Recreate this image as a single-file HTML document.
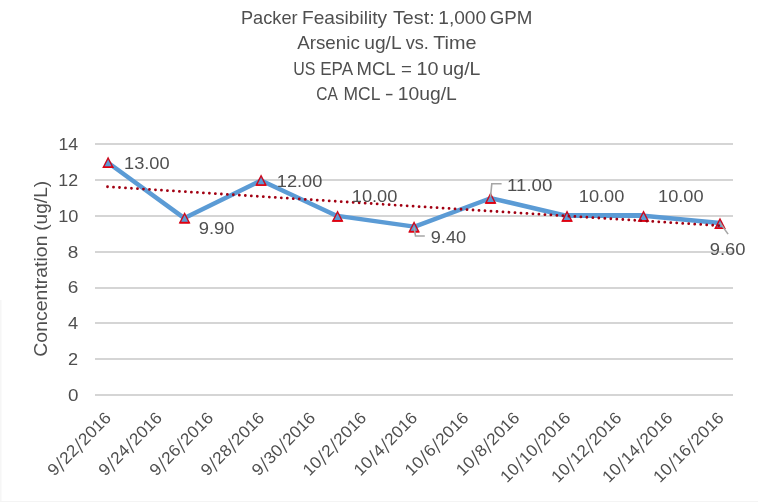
<!DOCTYPE html>
<html><head><meta charset="utf-8"><title>Packer Feasibility Test</title>
<style>
html,body{margin:0;padding:0;background:#fff;}
body{width:758px;height:502px;overflow:hidden;font-family:"Liberation Sans",sans-serif;}
svg{display:block;will-change:transform;font-family:"Liberation Sans",sans-serif;}
</style></head><body>
<svg width="758" height="502" viewBox="0 0 758 502">
<rect x="0" y="0" width="758" height="502" fill="#ffffff"/>
<rect x="0" y="300" width="1.5" height="202" fill="#f6f6f6"/>
<rect x="0" y="501" width="758" height="1" fill="#f4f4f4"/>
<rect x="95" y="143" width="638" height="2" fill="#d5d5d5"/>
<rect x="95" y="179" width="638" height="2" fill="#d5d5d5"/>
<rect x="95" y="215" width="638" height="2" fill="#d5d5d5"/>
<rect x="95" y="251" width="638" height="2" fill="#d5d5d5"/>
<rect x="95" y="287" width="638" height="2" fill="#d5d5d5"/>
<rect x="95" y="322" width="638" height="2" fill="#d5d5d5"/>
<rect x="95" y="358" width="638" height="2" fill="#d5d5d5"/>
<rect x="95" y="394" width="638" height="2" fill="#d5d5d5"/>
<text x="241.0" y="23.8" font-size="17.8" fill="#4f4f4f" textLength="56.55" lengthAdjust="spacingAndGlyphs">Packer</text>
<text x="302.0" y="23.8" font-size="17.8" fill="#4f4f4f" textLength="85.04" lengthAdjust="spacingAndGlyphs">Feasibility</text>
<text x="393.0" y="23.8" font-size="17.8" fill="#4f4f4f" textLength="41.62" lengthAdjust="spacingAndGlyphs">Test:</text>
<text x="438.25" y="23.8" font-size="17.8" fill="#4f4f4f" textLength="47.87" lengthAdjust="spacingAndGlyphs">1,000</text>
<text x="489.75" y="23.8" font-size="17.8" fill="#4f4f4f" textLength="42.65" lengthAdjust="spacingAndGlyphs">GPM</text>
<text x="297.25" y="48.9" font-size="17.8" fill="#4f4f4f" textLength="62.51" lengthAdjust="spacingAndGlyphs">Arsenic</text>
<text x="364.25" y="48.9" font-size="17.8" fill="#4f4f4f" textLength="37.36" lengthAdjust="spacingAndGlyphs">ug/L</text>
<text x="405.75" y="48.9" font-size="17.8" fill="#4f4f4f" textLength="23.14" lengthAdjust="spacingAndGlyphs">vs.</text>
<text x="433.25" y="48.9" font-size="17.8" fill="#4f4f4f" textLength="43.3" lengthAdjust="spacingAndGlyphs">Time</text>
<text x="293.25" y="74.6" font-size="17.8" fill="#4f4f4f" textLength="22.17" lengthAdjust="spacingAndGlyphs">US</text>
<text x="320.25" y="74.6" font-size="17.8" fill="#4f4f4f" textLength="32.81" lengthAdjust="spacingAndGlyphs">EPA</text>
<text x="356.5" y="74.6" font-size="17.8" fill="#4f4f4f" textLength="39.12" lengthAdjust="spacingAndGlyphs">MCL</text>
<text x="401.0" y="74.6" font-size="17.8" fill="#4f4f4f" textLength="10.88" lengthAdjust="spacingAndGlyphs">=</text>
<text x="416.5" y="74.6" font-size="17.8" fill="#4f4f4f" textLength="21.98" lengthAdjust="spacingAndGlyphs">10</text>
<text x="442.5" y="74.6" font-size="17.8" fill="#4f4f4f" textLength="37.86" lengthAdjust="spacingAndGlyphs">ug/L</text>
<text x="316.25" y="99.9" font-size="17.8" fill="#4f4f4f" textLength="21.55" lengthAdjust="spacingAndGlyphs">CA</text>
<text x="343.5" y="99.9" font-size="17.8" fill="#4f4f4f" textLength="36.86" lengthAdjust="spacingAndGlyphs">MCL</text>
<text x="384.75" y="99.9" font-size="17.8" fill="#4f4f4f" textLength="8.9" lengthAdjust="spacingAndGlyphs">-</text>
<text x="397.75" y="99.9" font-size="17.8" fill="#4f4f4f" textLength="59.08" lengthAdjust="spacingAndGlyphs">10ug/L</text>
<text x="58.5" y="149.85" font-size="16.7" fill="#4f4f4f" textLength="19.69" lengthAdjust="spacingAndGlyphs">14</text>
<text x="58.25" y="185.85" font-size="16.7" fill="#4f4f4f" textLength="19.76" lengthAdjust="spacingAndGlyphs">12</text>
<text x="58.25" y="221.85" font-size="16.7" fill="#4f4f4f" textLength="20.22" lengthAdjust="spacingAndGlyphs">10</text>
<text x="67.75" y="257.5" font-size="16.7" fill="#4f4f4f" textLength="10.56" lengthAdjust="spacingAndGlyphs">8</text>
<text x="67.75" y="292.85" font-size="16.7" fill="#4f4f4f" textLength="10.56" lengthAdjust="spacingAndGlyphs">6</text>
<text x="68.0" y="328.85" font-size="16.7" fill="#4f4f4f" textLength="10.13" lengthAdjust="spacingAndGlyphs">4</text>
<text x="68.0" y="364.85" font-size="16.7" fill="#4f4f4f" textLength="10.09" lengthAdjust="spacingAndGlyphs">2</text>
<text x="68.0" y="400.85" font-size="16.7" fill="#4f4f4f" textLength="10.45" lengthAdjust="spacingAndGlyphs">0</text>
<text transform="translate(47,356.75) rotate(-90)" font-size="17.8" fill="#4f4f4f" textLength="121.29" lengthAdjust="spacingAndGlyphs">Concentration</text>
<text transform="translate(47,230.75) rotate(-90)" font-size="17.8" fill="#4f4f4f" textLength="49.86" lengthAdjust="spacingAndGlyphs">(ug/L)</text>
<g transform="translate(112.10,419.00) rotate(-45)"><text x="-81.80" y="0" font-size="16.7" fill="#4f4f4f" textLength="9.60" lengthAdjust="spacingAndGlyphs">9</text><line x1="-71.20" y1="3.0" x2="-66.20" y2="-12.2" stroke="#4f4f4f" stroke-width="1.3"/><text x="-64.90" y="0" font-size="16.7" fill="#4f4f4f" textLength="19.20" lengthAdjust="spacingAndGlyphs">22</text><line x1="-44.70" y1="3.0" x2="-39.70" y2="-12.2" stroke="#4f4f4f" stroke-width="1.3"/><text x="-38.40" y="0" font-size="16.7" fill="#4f4f4f" textLength="38.40" lengthAdjust="spacingAndGlyphs">2016</text></g>
<g transform="translate(163.15,419.00) rotate(-45)"><text x="-81.80" y="0" font-size="16.7" fill="#4f4f4f" textLength="9.60" lengthAdjust="spacingAndGlyphs">9</text><line x1="-71.20" y1="3.0" x2="-66.20" y2="-12.2" stroke="#4f4f4f" stroke-width="1.3"/><text x="-64.90" y="0" font-size="16.7" fill="#4f4f4f" textLength="19.20" lengthAdjust="spacingAndGlyphs">24</text><line x1="-44.70" y1="3.0" x2="-39.70" y2="-12.2" stroke="#4f4f4f" stroke-width="1.3"/><text x="-38.40" y="0" font-size="16.7" fill="#4f4f4f" textLength="38.40" lengthAdjust="spacingAndGlyphs">2016</text></g>
<g transform="translate(214.20,419.00) rotate(-45)"><text x="-81.80" y="0" font-size="16.7" fill="#4f4f4f" textLength="9.60" lengthAdjust="spacingAndGlyphs">9</text><line x1="-71.20" y1="3.0" x2="-66.20" y2="-12.2" stroke="#4f4f4f" stroke-width="1.3"/><text x="-64.90" y="0" font-size="16.7" fill="#4f4f4f" textLength="19.20" lengthAdjust="spacingAndGlyphs">26</text><line x1="-44.70" y1="3.0" x2="-39.70" y2="-12.2" stroke="#4f4f4f" stroke-width="1.3"/><text x="-38.40" y="0" font-size="16.7" fill="#4f4f4f" textLength="38.40" lengthAdjust="spacingAndGlyphs">2016</text></g>
<g transform="translate(265.25,419.00) rotate(-45)"><text x="-81.80" y="0" font-size="16.7" fill="#4f4f4f" textLength="9.60" lengthAdjust="spacingAndGlyphs">9</text><line x1="-71.20" y1="3.0" x2="-66.20" y2="-12.2" stroke="#4f4f4f" stroke-width="1.3"/><text x="-64.90" y="0" font-size="16.7" fill="#4f4f4f" textLength="19.20" lengthAdjust="spacingAndGlyphs">28</text><line x1="-44.70" y1="3.0" x2="-39.70" y2="-12.2" stroke="#4f4f4f" stroke-width="1.3"/><text x="-38.40" y="0" font-size="16.7" fill="#4f4f4f" textLength="38.40" lengthAdjust="spacingAndGlyphs">2016</text></g>
<g transform="translate(316.30,419.00) rotate(-45)"><text x="-81.80" y="0" font-size="16.7" fill="#4f4f4f" textLength="9.60" lengthAdjust="spacingAndGlyphs">9</text><line x1="-71.20" y1="3.0" x2="-66.20" y2="-12.2" stroke="#4f4f4f" stroke-width="1.3"/><text x="-64.90" y="0" font-size="16.7" fill="#4f4f4f" textLength="19.20" lengthAdjust="spacingAndGlyphs">30</text><line x1="-44.70" y1="3.0" x2="-39.70" y2="-12.2" stroke="#4f4f4f" stroke-width="1.3"/><text x="-38.40" y="0" font-size="16.7" fill="#4f4f4f" textLength="38.40" lengthAdjust="spacingAndGlyphs">2016</text></g>
<g transform="translate(367.35,419.00) rotate(-45)"><text x="-81.80" y="0" font-size="16.7" fill="#4f4f4f" textLength="19.20" lengthAdjust="spacingAndGlyphs">10</text><line x1="-61.60" y1="3.0" x2="-56.60" y2="-12.2" stroke="#4f4f4f" stroke-width="1.3"/><text x="-55.30" y="0" font-size="16.7" fill="#4f4f4f" textLength="9.60" lengthAdjust="spacingAndGlyphs">2</text><line x1="-44.70" y1="3.0" x2="-39.70" y2="-12.2" stroke="#4f4f4f" stroke-width="1.3"/><text x="-38.40" y="0" font-size="16.7" fill="#4f4f4f" textLength="38.40" lengthAdjust="spacingAndGlyphs">2016</text></g>
<g transform="translate(418.40,419.00) rotate(-45)"><text x="-81.80" y="0" font-size="16.7" fill="#4f4f4f" textLength="19.20" lengthAdjust="spacingAndGlyphs">10</text><line x1="-61.60" y1="3.0" x2="-56.60" y2="-12.2" stroke="#4f4f4f" stroke-width="1.3"/><text x="-55.30" y="0" font-size="16.7" fill="#4f4f4f" textLength="9.60" lengthAdjust="spacingAndGlyphs">4</text><line x1="-44.70" y1="3.0" x2="-39.70" y2="-12.2" stroke="#4f4f4f" stroke-width="1.3"/><text x="-38.40" y="0" font-size="16.7" fill="#4f4f4f" textLength="38.40" lengthAdjust="spacingAndGlyphs">2016</text></g>
<g transform="translate(469.45,419.00) rotate(-45)"><text x="-81.80" y="0" font-size="16.7" fill="#4f4f4f" textLength="19.20" lengthAdjust="spacingAndGlyphs">10</text><line x1="-61.60" y1="3.0" x2="-56.60" y2="-12.2" stroke="#4f4f4f" stroke-width="1.3"/><text x="-55.30" y="0" font-size="16.7" fill="#4f4f4f" textLength="9.60" lengthAdjust="spacingAndGlyphs">6</text><line x1="-44.70" y1="3.0" x2="-39.70" y2="-12.2" stroke="#4f4f4f" stroke-width="1.3"/><text x="-38.40" y="0" font-size="16.7" fill="#4f4f4f" textLength="38.40" lengthAdjust="spacingAndGlyphs">2016</text></g>
<g transform="translate(520.50,419.00) rotate(-45)"><text x="-81.80" y="0" font-size="16.7" fill="#4f4f4f" textLength="19.20" lengthAdjust="spacingAndGlyphs">10</text><line x1="-61.60" y1="3.0" x2="-56.60" y2="-12.2" stroke="#4f4f4f" stroke-width="1.3"/><text x="-55.30" y="0" font-size="16.7" fill="#4f4f4f" textLength="9.60" lengthAdjust="spacingAndGlyphs">8</text><line x1="-44.70" y1="3.0" x2="-39.70" y2="-12.2" stroke="#4f4f4f" stroke-width="1.3"/><text x="-38.40" y="0" font-size="16.7" fill="#4f4f4f" textLength="38.40" lengthAdjust="spacingAndGlyphs">2016</text></g>
<g transform="translate(571.55,419.00) rotate(-45)"><text x="-91.40" y="0" font-size="16.7" fill="#4f4f4f" textLength="19.20" lengthAdjust="spacingAndGlyphs">10</text><line x1="-71.20" y1="3.0" x2="-66.20" y2="-12.2" stroke="#4f4f4f" stroke-width="1.3"/><text x="-64.90" y="0" font-size="16.7" fill="#4f4f4f" textLength="19.20" lengthAdjust="spacingAndGlyphs">10</text><line x1="-44.70" y1="3.0" x2="-39.70" y2="-12.2" stroke="#4f4f4f" stroke-width="1.3"/><text x="-38.40" y="0" font-size="16.7" fill="#4f4f4f" textLength="38.40" lengthAdjust="spacingAndGlyphs">2016</text></g>
<g transform="translate(622.60,419.00) rotate(-45)"><text x="-91.40" y="0" font-size="16.7" fill="#4f4f4f" textLength="19.20" lengthAdjust="spacingAndGlyphs">10</text><line x1="-71.20" y1="3.0" x2="-66.20" y2="-12.2" stroke="#4f4f4f" stroke-width="1.3"/><text x="-64.90" y="0" font-size="16.7" fill="#4f4f4f" textLength="19.20" lengthAdjust="spacingAndGlyphs">12</text><line x1="-44.70" y1="3.0" x2="-39.70" y2="-12.2" stroke="#4f4f4f" stroke-width="1.3"/><text x="-38.40" y="0" font-size="16.7" fill="#4f4f4f" textLength="38.40" lengthAdjust="spacingAndGlyphs">2016</text></g>
<g transform="translate(673.65,419.00) rotate(-45)"><text x="-91.40" y="0" font-size="16.7" fill="#4f4f4f" textLength="19.20" lengthAdjust="spacingAndGlyphs">10</text><line x1="-71.20" y1="3.0" x2="-66.20" y2="-12.2" stroke="#4f4f4f" stroke-width="1.3"/><text x="-64.90" y="0" font-size="16.7" fill="#4f4f4f" textLength="19.20" lengthAdjust="spacingAndGlyphs">14</text><line x1="-44.70" y1="3.0" x2="-39.70" y2="-12.2" stroke="#4f4f4f" stroke-width="1.3"/><text x="-38.40" y="0" font-size="16.7" fill="#4f4f4f" textLength="38.40" lengthAdjust="spacingAndGlyphs">2016</text></g>
<g transform="translate(724.70,419.00) rotate(-45)"><text x="-91.40" y="0" font-size="16.7" fill="#4f4f4f" textLength="19.20" lengthAdjust="spacingAndGlyphs">10</text><line x1="-71.20" y1="3.0" x2="-66.20" y2="-12.2" stroke="#4f4f4f" stroke-width="1.3"/><text x="-64.90" y="0" font-size="16.7" fill="#4f4f4f" textLength="19.20" lengthAdjust="spacingAndGlyphs">16</text><line x1="-44.70" y1="3.0" x2="-39.70" y2="-12.2" stroke="#4f4f4f" stroke-width="1.3"/><text x="-38.40" y="0" font-size="16.7" fill="#4f4f4f" textLength="38.40" lengthAdjust="spacingAndGlyphs">2016</text></g>
<line x1="108.10" y1="162.80" x2="184.59" y2="218.38" stroke="#5b9bd5" stroke-width="4.5" stroke-linecap="round"/>
<line x1="184.59" y1="218.10" x2="261.08" y2="180.45" stroke="#5b9bd5" stroke-width="4.5" stroke-linecap="round"/>
<line x1="261.08" y1="180.42" x2="337.56" y2="216.28" stroke="#5b9bd5" stroke-width="4.5" stroke-linecap="round"/>
<line x1="337.56" y1="215.88" x2="414.05" y2="226.64" stroke="#5b9bd5" stroke-width="4.5" stroke-linecap="round"/>
<line x1="414.05" y1="226.92" x2="490.54" y2="198.24" stroke="#5b9bd5" stroke-width="4.5" stroke-linecap="round"/>
<line x1="490.54" y1="198.07" x2="567.03" y2="216.00" stroke="#5b9bd5" stroke-width="4.5" stroke-linecap="round"/>
<line x1="567.03" y1="215.71" x2="643.52" y2="215.71" stroke="#5b9bd5" stroke-width="4.5" stroke-linecap="round"/>
<line x1="643.52" y1="215.83" x2="720.00" y2="223.00" stroke="#5b9bd5" stroke-width="4.5" stroke-linecap="round"/>
<rect x="567.03" y="213" width="76.49" height="5" fill="#5b9bd5"/>
<path d="M108.10,156.43 L114.00,167.93 L102.20,167.93 Z" fill="#cc0a1e"/>
<rect x="103.10" y="166.33" width="10" height="1.6" fill="#e2000f"/>
<path d="M108.10,159.43 L111.50,166.23 L104.70,166.23 Z" fill="#5b9bd5"/>
<path d="M184.59,212.01 L190.49,223.51 L178.69,223.51 Z" fill="#cc0a1e"/>
<rect x="179.59" y="221.91" width="10" height="1.6" fill="#e2000f"/>
<path d="M184.59,215.01 L187.99,221.81 L181.19,221.81 Z" fill="#5b9bd5"/>
<path d="M261.08,174.36 L266.98,185.86 L255.18,185.86 Z" fill="#cc0a1e"/>
<rect x="256.08" y="184.26" width="10" height="1.6" fill="#e2000f"/>
<path d="M261.08,177.36 L264.48,184.16 L257.68,184.16 Z" fill="#5b9bd5"/>
<path d="M337.56,210.21 L343.46,221.71 L331.66,221.71 Z" fill="#cc0a1e"/>
<rect x="332.56" y="220.11" width="10" height="1.6" fill="#e2000f"/>
<path d="M337.56,213.21 L340.96,220.01 L334.16,220.01 Z" fill="#5b9bd5"/>
<path d="M414.05,220.97 L419.95,232.47 L408.15,232.47 Z" fill="#cc0a1e"/>
<rect x="409.05" y="230.87" width="10" height="1.6" fill="#e2000f"/>
<path d="M414.05,223.97 L417.45,230.77 L410.65,230.77 Z" fill="#5b9bd5"/>
<path d="M490.54,192.29 L496.44,203.79 L484.64,203.79 Z" fill="#cc0a1e"/>
<rect x="485.54" y="202.19" width="10" height="1.6" fill="#e2000f"/>
<path d="M490.54,195.29 L493.94,202.09 L487.14,202.09 Z" fill="#5b9bd5"/>
<path d="M567.03,210.21 L572.93,221.71 L561.13,221.71 Z" fill="#cc0a1e"/>
<rect x="562.03" y="220.11" width="10" height="1.6" fill="#e2000f"/>
<path d="M567.03,213.21 L570.43,220.01 L563.63,220.01 Z" fill="#5b9bd5"/>
<path d="M643.52,210.21 L649.42,221.71 L637.62,221.71 Z" fill="#cc0a1e"/>
<rect x="638.52" y="220.11" width="10" height="1.6" fill="#e2000f"/>
<path d="M643.52,213.21 L646.92,220.01 L640.12,220.01 Z" fill="#5b9bd5"/>
<path d="M720.00,217.39 L725.90,228.89 L714.10,228.89 Z" fill="#cc0a1e"/>
<rect x="715.00" y="227.29" width="10" height="1.6" fill="#e2000f"/>
<path d="M720.00,220.39 L723.40,227.19 L716.60,227.19 Z" fill="#5b9bd5"/>
<line x1="107.50" y1="186.75" x2="721.50" y2="225.79" stroke="#a20012" stroke-width="2.8" stroke-dasharray="0.01 5.994" stroke-linecap="round"/>
<polyline fill="none" stroke="#a6a6a6" stroke-width="1.6" points="414.05,227.47 415.5,236 424.8,236"/>
<polyline fill="none" stroke="#a6a6a6" stroke-width="1.6" points="490.54,196.79 491.8,183.8 501.6,183.8"/>
<polyline fill="none" stroke="#a6a6a6" stroke-width="1.6" points="720.00,222.89 728.1,234.1"/>
<text x="124.0" y="168.8" font-size="16.7" fill="#4f4f4f" textLength="45.61" lengthAdjust="spacingAndGlyphs">13.00</text>
<text x="198.75" y="234.1" font-size="16.7" fill="#4f4f4f" textLength="35.81" lengthAdjust="spacingAndGlyphs">9.90</text>
<text x="276.75" y="186.9" font-size="16.7" fill="#4f4f4f" textLength="45.6" lengthAdjust="spacingAndGlyphs">12.00</text>
<text x="351.75" y="201.8" font-size="16.7" fill="#4f4f4f" textLength="45.6" lengthAdjust="spacingAndGlyphs">10.00</text>
<text x="430.75" y="243.1" font-size="16.7" fill="#4f4f4f" textLength="35.32" lengthAdjust="spacingAndGlyphs">9.40</text>
<text x="507.0" y="190.9" font-size="16.7" fill="#4f4f4f" textLength="45.35" lengthAdjust="spacingAndGlyphs">11.00</text>
<text x="578.75" y="202.0" font-size="16.7" fill="#4f4f4f" textLength="45.6" lengthAdjust="spacingAndGlyphs">10.00</text>
<text x="658.0" y="202.0" font-size="16.7" fill="#4f4f4f" textLength="45.61" lengthAdjust="spacingAndGlyphs">10.00</text>
<text x="709.75" y="255.0" font-size="16.7" fill="#4f4f4f" textLength="35.83" lengthAdjust="spacingAndGlyphs">9.60</text>
</svg></body></html>
